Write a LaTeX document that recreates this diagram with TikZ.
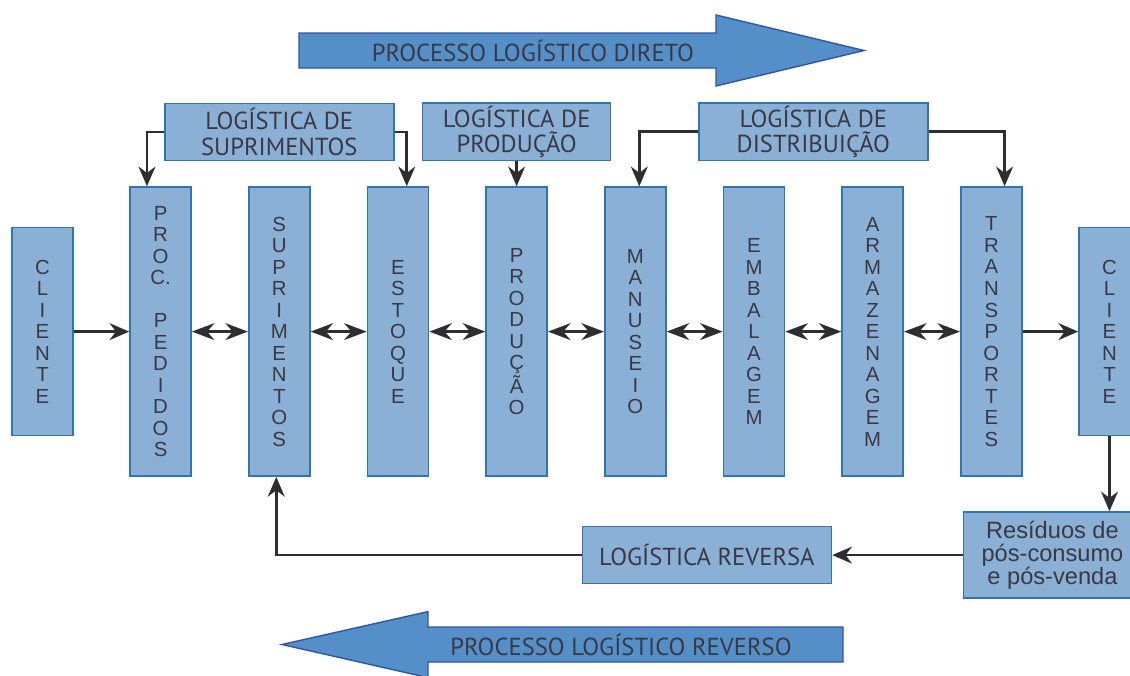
\documentclass[tikz,border=0pt]{standalone}
\usepackage{fontspec}
\setmainfont{PT Sans}
\newfontfamily\colfont{Liberation Sans}
\usetikzlibrary{arrows.meta,positioning,calc}
\definecolor{nb}{RGB}{138,176,213}
\definecolor{nbr}{RGB}{47,117,181}
\definecolor{pa}{RGB}{84,143,199}
\definecolor{par}{RGB}{48,86,168}
\definecolor{tx}{RGB}{58,56,68}
\definecolor{arrc}{RGB}{45,45,50}
\tikzset{
  cn/.style={rectangle,draw=nbr,fill=nb,line width=1.2pt,
    minimum width=1.525cm,minimum height=#1,inner sep=0pt,
    align=center,text=tx,font=\colfont\fontsize{14.5}{15.3}\selectfont},
  cn/.default=7.225cm,
  ln/.style={rectangle,draw=nbr,fill=nb,line width=1.2pt,
    minimum width=#1,minimum height=1.425cm,inner sep=2pt,
    align=center,text=tx,font=\fontsize{17.5}{18}\selectfont},
  ln/.default=5.725cm,
  pn/.style={fill=pa,draw=par,line width=1pt},
  pt/.style={text=tx,font=\fontsize{17.5}{18}\selectfont},
  arr/.style={-{Stealth[length=14pt,width=12pt]},line width=1.8pt,color=arrc},
  darr/.style={{Stealth[length=16pt,width=12pt]}-{Stealth[length=16pt,width=12pt]},
    line width=1.8pt,color=arrc},
}

\begin{document}
\begin{tikzpicture}[node distance=1.40cm]
    \useasboundingbox (0,0) rectangle (28.25,-16.875);

    % Process arrows - top and bottom
    \draw[pn] (7.475,-0.825) -- (17.9,-0.825) -- (17.9,-0.375) -- (21.6,-1.2625)
      -- (17.9,-2.15) -- (17.9,-1.7) -- (7.475,-1.7) -- cycle;
    \node[pt] (dir) at (13.325,-1.2625) {PROCESSO LOGÍSTICO DIRETO};
    \draw[pn] (7.05,-16.1125) -- (10.7,-15.29) -- (10.7,-15.675) -- (21.075,-15.675)
      -- (21.075,-16.55) -- (10.7,-16.55) -- (10.7,-16.94) -- cycle;
    \node[pt] (rev) at (15.525,-16.1125) {PROCESSO LOGÍSTICO REVERSO};

    % Column chain
    \node[cn=5.2cm] (cli) at (1.0625,-8.29) {C\\L\\I\\E\\N\\T\\E};
    \node[cn,right=1.385cm of cli] (ped) {P\\R\\O\\C.\\[15.3pt]P\\E\\D\\I\\D\\O\\S};
    \node[cn,right=of ped] (sup) {S\\U\\P\\R\\I\\M\\E\\N\\T\\O\\S};
    \node[cn,right=of sup] (est) {E\\S\\T\\O\\Q\\U\\E};
    \node[cn,right=of est] (prod) {P\\R\\O\\D\\U\\Ç\\Ã\\O};
    \node[cn,right=of prod] (man) {M\\A\\N\\U\\S\\E\\I\\O};
    \node[cn,right=of man] (emb) {E\\M\\B\\A\\L\\A\\G\\E\\M};
    \node[cn,right=of emb] (arm) {A\\R\\M\\A\\Z\\E\\N\\A\\G\\E\\M};
    \node[cn,right=of arm] (tra) {T\\R\\A\\N\\S\\P\\O\\R\\T\\E\\S};
    \node[cn=5.2cm,right=1.385cm of tra] (cli2) {C\\L\\I\\E\\N\\T\\E};

    % Top groups
    \node[ln,above=0.625cm of sup] (ls) {LOGÍSTICA DE\\SUPRIMENTOS};
    \node[ln=4.7cm,above=0.625cm of prod] (lp) {LOGÍSTICA DE\\PRODUÇÃO};
    \coordinate (ea) at ($(emb.north)!0.5!(arm.north)$);
    \node[ln,above=0.625cm of ea] (ld) {LOGÍSTICA DE\\DISTRIBUIÇÃO};

    % Reverse branch
    \node[ln=4.45cm,minimum height=2.15cm,below=1.87cm of cli2,xshift=-1.425cm,
      font=\colfont\fontsize{16.8}{16.5}\selectfont] (res)
      {Resíduos de\\pós-consumo\\e pós-venda};
    \node[ln=6.225cm,left=3.26cm of res] (lr) {LOGÍSTICA REVERSA};

    \draw[arr] (ls.west) -| ([xshift=-0.34cm]ped.north);
    \draw[arr] (ls.east) -| ([xshift=0.22cm]est.north);
    \draw[arr] (lp.south) -- (lp.south |- prod.north);
    \draw[arr] (ld.west) -| ([xshift=0.1cm]man.north);
    \draw[arr] (ld.east) -| ([xshift=0.33cm]tra.north);

    \draw[arr] (cli) -- (ped);
    \draw[darr] (ped) -- (sup);
    \draw[darr] (sup) -- (est);
    \draw[darr] (est) -- (prod);
    \draw[darr] (prod) -- (man);
    \draw[darr] (man) -- (emb);
    \draw[darr] (emb) -- (arm);
    \draw[darr] (arm) -- (tra);
    \draw[arr] (tra) -- (cli2);

    \draw[arr] (cli2.south) -- (cli2.south |- res.north);
    \draw[arr] (res) -- (lr);
    \draw[arr] (lr.west) -| ([xshift=-0.075cm]sup.south);
  \end{tikzpicture}
\end{document}
